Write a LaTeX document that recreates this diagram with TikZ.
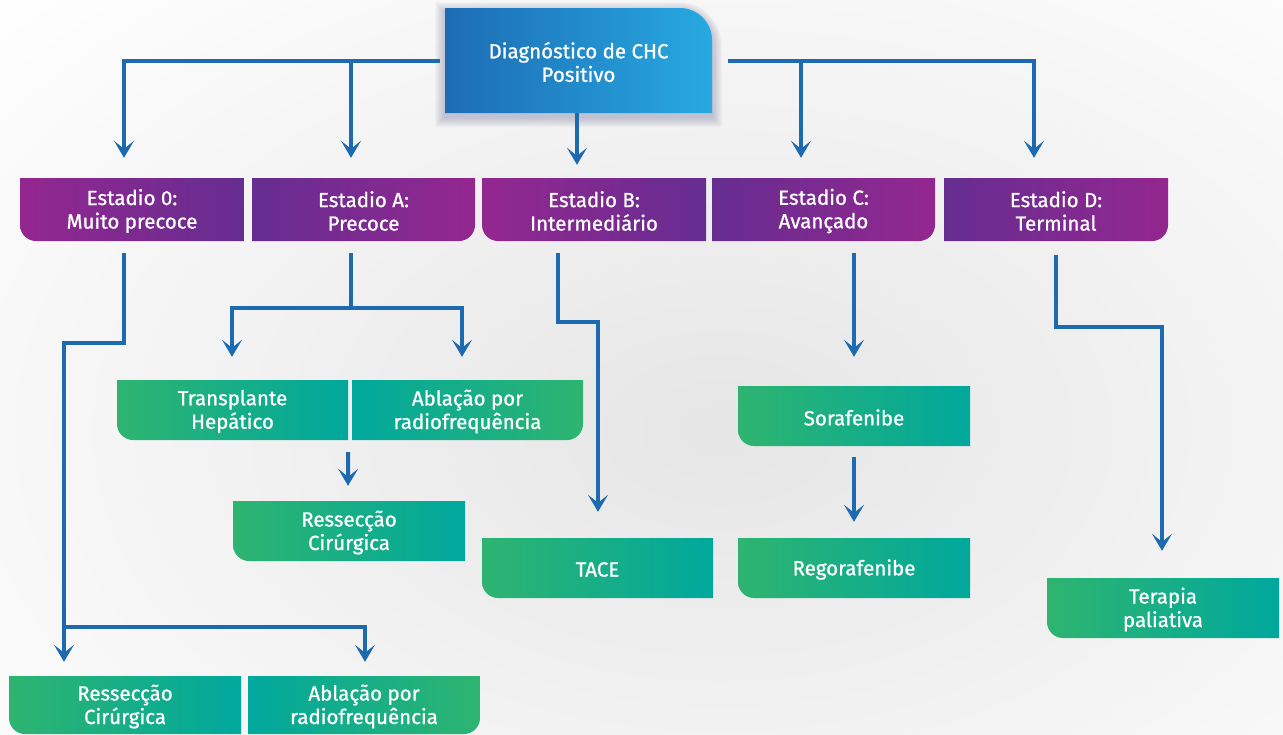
\documentclass[tikz,border=0pt]{standalone}
\usepackage{fontspec}
\setmainfont{Fira Sans}[FakeBold=0.9]
\usetikzlibrary{arrows.meta,calc}
\definecolor{lineblue}{HTML}{1D6AB1}
\definecolor{bluel}{HTML}{1C6CB4}
\definecolor{bluer}{HTML}{27A9E1}
\definecolor{mag}{HTML}{93278F}
\definecolor{pur}{HTML}{662D91}
\definecolor{grn}{HTML}{2EB470}
\definecolor{tealc}{HTML}{00A89D}
\definecolor{shadowc}{HTML}{5A5F8C}
\tikzset{
  txt/.style={text=white, font=\fontsize{20.5}{23.5}\selectfont, align=center, inner sep=0pt},
  conn/.style={draw=lineblue, line width=4pt, -{Stealth[length=17pt,width=20pt,inset=8pt]}},
}
% corner shapes: x1 y1 x2 y2 leftcolor rightcolor
\newcommand\shpBL[6]{\shade[left color=#5,right color=#6] (#1,#2) -- (#3,#2) -- (#3,#4) -- ({#1+16},#4) .. controls ({#1+7.2},#4) and (#1,{#4-7.2}) .. (#1,{#4-16}) -- cycle;}
\newcommand\shpBR[6]{\shade[left color=#5,right color=#6] (#1,#2) -- (#3,#2) -- (#3,{#4-16}) .. controls (#3,{#4-7.2}) and ({#3-7.2},#4) .. ({#3-16},#4) -- (#1,#4) -- cycle;}
% name x1 y1 x2 y2 corner lc rc text
\newcommand\mybox[9]{%
  \csname shp#6\endcsname{#2}{#3}{#4}{#5}{#7}{#8}%
  \node[txt, minimum width={#4-#2}, minimum height={#5-#3}] (#1) at ({(#2+#4)/2},{(#3+#5)/2+1.5}) {#9};%
}
\begin{document}
\begin{tikzpicture}[x=1pt,y=-1pt]
\useasboundingbox (0,0) rectangle (1283,734);
\fill[white] (0,0) rectangle (1283,734);
\shade[inner color=gray!20, outer color=white] (720,430) ellipse [x radius=1000, y radius=640];

% soft shadow of the top box
\foreach \i in {1,...,10}{
  \fill[shadowc, opacity=0.035]
    ({445-\i},{12-\i}) -- (680,{12-\i}) .. controls ({697.6+0.45*\i},{12-\i}) and ({712+\i},{26.4-0.45*\i}) .. ({712+\i},44)
    -- ({712+\i},{117+\i}) -- ({445-\i},{117+\i}) -- cycle;
}
% top box
\shade[left color=bluel, right color=bluer]
  (445,8) -- (680,8) .. controls (697.6,8) and (712,22.4) .. (712,40) -- (712,113) -- (445,113) -- cycle;
\node[txt, minimum width=267, minimum height=105] (diag) at (578.5,62) {Diagnóstico de CHC\\Positivo};

% stages
\mybox{e0}{20}{178}{244}{241}{BL}{mag}{pur}{Estadio 0:\\Muito precoce}
\mybox{eA}{252}{178}{475}{241}{BR}{pur}{mag}{Estadio A:\\Precoce}
\mybox{eB}{482}{178}{706}{241}{BL}{mag}{pur}{Estadio B:\\Intermediário}
\mybox{eC}{712}{178}{935}{241}{BR}{pur}{mag}{Estadio C:\\Avançado}
\mybox{eD}{944}{178}{1168}{241}{BR}{pur}{mag}{Estadio D:\\Terminal}

% treatments
\mybox{trans}{117}{380}{348}{440}{BL}{grn}{tealc}{Transplante\\Hepático}
\mybox{ablA}{352}{380}{583}{440}{BR}{tealc}{grn}{Ablação por\\radiofrequência}
\mybox{resA}{233}{501}{465}{561}{BL}{grn}{tealc}{Ressecção\\Cirúrgica}
\mybox{tace}{482}{538}{713}{598}{BL}{grn}{tealc}{TACE}
\mybox{sora}{738}{386}{970}{446}{BL}{grn}{tealc}{Sorafenibe}
\mybox{rego}{738}{538}{970}{598}{BL}{grn}{tealc}{Regorafenibe}
\mybox{pal}{1047}{578}{1279}{638}{BL}{grn}{tealc}{Terapia\\paliativa}
\mybox{res0}{9}{676}{241}{734}{BL}{grn}{tealc}{Ressecção\\Cirúrgica}
\mybox{abl0}{248}{676}{480}{734}{BR}{tealc}{grn}{Ablação por\\radiofrequência}

% connectors
\draw[conn] ($(diag.west)+(-5,-1.5)$) -| ($(e0.north)+(-8,-21.5)$);
\draw[conn] ($(diag.west)+(-5,-1.5)$) -| ($(eA.north)+(-12.5,-21.5)$);
\draw[conn, shorten >=13pt] ($(diag.south)+(-1.5,-1.5)$) -- ($(diag.south |- eB.north)+(-1.5,-1.5)$);
\draw[conn] ($(diag.east)+(16,-1.5)$) -| ($(eC.north)+(-22.5,-21.5)$);
\draw[conn] ($(diag.east)+(16,-1.5)$) -| ($(eD.north)+(-22,-21.5)$);

\draw[conn] ($(e0.south)+(-8,10.5)$) -- ++(0,90) -| ($(res0.north)+(-61,-15.5)$);
\draw[conn] ($(res0.north)+(-61,-50.5)$) -| ($(abl0.north)+(1,-15.5)$);

\draw[conn] ($(eA.south)+(-12.5,10.5)$) -- ++(0,55) -| ($(trans.north)+(-0.5,-24.5)$);
\draw[conn] ($(eA.south)+(-12.5,65.5)$) -| ($(ablA.north)+(-5.5,-24.5)$);
\draw[conn] ($(trans.south east)+(0,10.5)$) -- ($(resA.north)+(-1,-16.5)$);

\draw[conn] ($(eB.south)+(-36,10.5)$) -- ++(0,69) -| ($(tace.north)+(0.5,-27.5)$);
\draw[conn] ($(eC.south)+(30.5,10.5)$) -- ($(sora.north)+(0,-30.5)$);
\draw[conn] ($(sora.south)+(0,9.5)$) -- ($(rego.north)+(0,-17.5)$);
\draw[conn] ($(eD.south)+(0,12.5)$) -- ++(0,72) -| ($(pal.north)+(-1,-28.5)$);
\end{tikzpicture}
\end{document}
